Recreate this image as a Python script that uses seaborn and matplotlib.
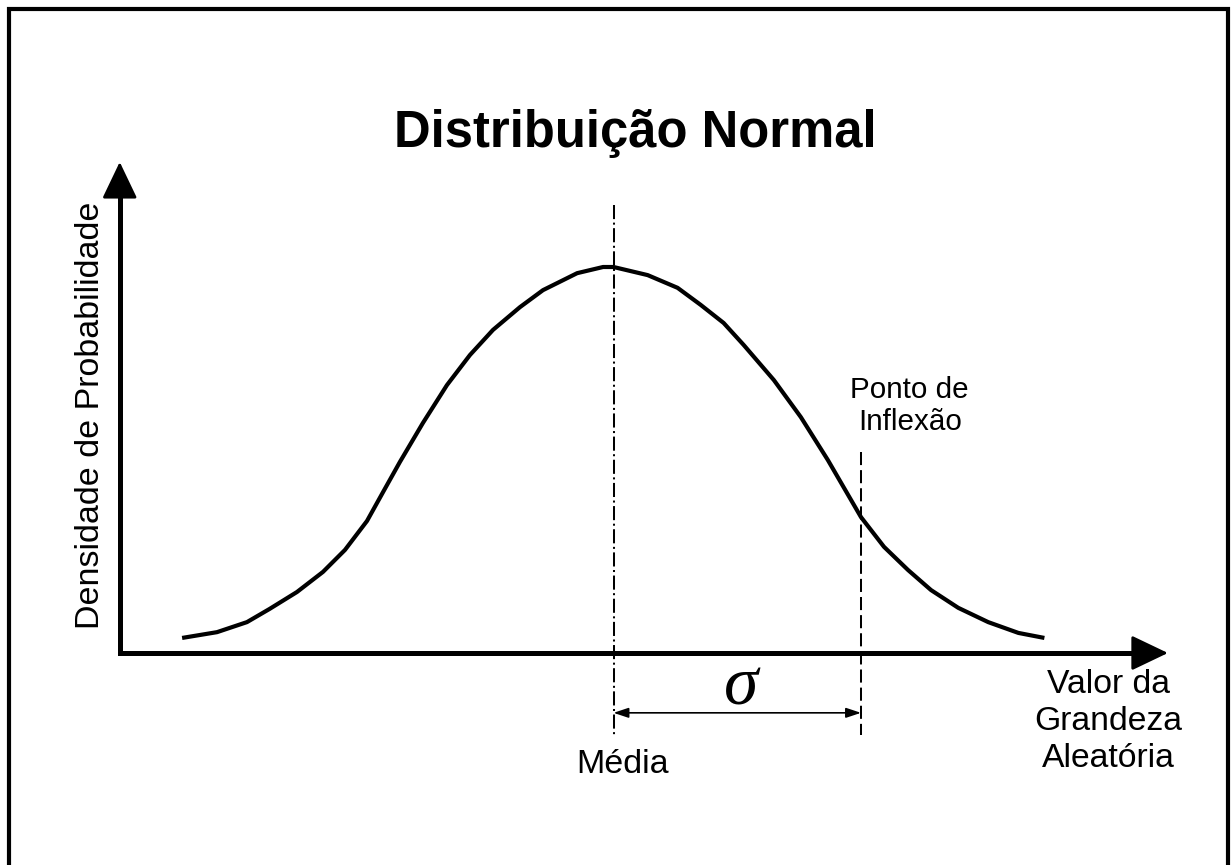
import numpy as np
import pandas as pd
import seaborn as sns
import matplotlib.pyplot as plt
from matplotlib.patches import Rectangle

# curve: x in sigma units from the mean, y relative to peak
curve_x = [-1.743, -1.602, -1.481, -1.390, -1.279, -1.174, -1.085, -0.996,
           -0.931, -0.863, -0.770, -0.673, -0.580, -0.487, -0.378, -0.285,
           -0.147, -0.042, 0.000, 0.138, 0.259, 0.352, 0.445, 0.526, 0.648,
           0.757, 0.866, 1.000, 1.093, 1.190, 1.283, 1.393, 1.514, 1.636, 1.741]
curve_y = [0.039, 0.054, 0.080, 0.114, 0.158, 0.210, 0.267, 0.342,
           0.417, 0.495, 0.596, 0.694, 0.772, 0.837, 0.896, 0.940,
           0.984, 1.000, 1.000, 0.979, 0.946, 0.902, 0.855, 0.798, 0.707,
           0.611, 0.500, 0.352, 0.275, 0.215, 0.163, 0.117, 0.080, 0.052, 0.039]

MEAN = 0.0
INFLEXION = 1.0

title = "Distribuição Normal"
ylabel = "Densidade de Probabilidade"
xlabel = "Valor da\nGrandeza\nAleatória"
mean_label = "Média"
inflexion_label = "Ponto de\nInflexão"
sigma_label = "σ"

sns.set_theme(style="white")
plt.rcParams['font.family'] = ['Liberation Sans', 'DejaVu Sans']
plt.rcParams['text.color'] = 'black'

fig = plt.figure(figsize=(12.31, 8.65), dpi=100)
ax = fig.add_axes([0, 0, 1, 1])

data = pd.DataFrame({"x": curve_x, "y": curve_y})
sns.lineplot(data=data, x="x", y="y", ax=ax, color="black", linewidth=3.0,
             solid_capstyle="butt", solid_joinstyle="round")

# axes: an L-shaped line plus two arrow heads
x0, y_tip, x_tip = -1.995, 1.272, 2.240
ax.plot([x0, x0, x_tip - 0.1], [y_tip - 0.06, 0, 0], color="black", lw=3.6,
        solid_joinstyle="miter", solid_capstyle="butt")
head = dict(arrowstyle="-|>,head_length=2.3,head_width=1.1", lw=2.0,
            color="black", shrinkA=0, shrinkB=0, mutation_scale=10)
ax.annotate("", xy=(x0, y_tip), xytext=(x0, y_tip - 0.12), arrowprops=head)
ax.annotate("", xy=(x_tip, 0), xytext=(x_tip - 0.2, 0), arrowprops=head)

# mean and inflection lines
ax.plot([MEAN, MEAN], [1.16, -0.212], color="black", lw=1.45,
        linestyle=(0, (7, 1.75, 1, 1.75)))
ax.plot([INFLEXION, INFLEXION], [0.52, -0.212], color="black", lw=1.45,
        linestyle=(0, (6.5, 2.5)))

# sigma bracket
ax.annotate("", xy=(INFLEXION, -0.155), xytext=(MEAN, -0.155),
            arrowprops=dict(arrowstyle="<|-|>,head_length=0.9,head_width=0.3",
                            lw=1.2, color="black", shrinkA=0, shrinkB=0,
                            mutation_scale=10))
ax.text(0.515, -0.09, sigma_label, fontsize=50, style="italic",
        family=["Liberation Serif", "DejaVu Serif"], ha="center", va="center")

ax.text(0.036, -0.290, mean_label, fontsize=24.5, ha="center", va="center")
ax.text(1.197, 0.640, inflexion_label, fontsize=21.3, ha="center", va="center",
        linespacing=1.2)
ax.text(2.0, -0.178, xlabel, fontsize=24.3, ha="center", va="center",
        linespacing=1.25)
ax.text(-2.115, 0.617, ylabel, fontsize=24.5, rotation=90,
        ha="center", va="center")
ax.text(0.09, 1.345, title, fontsize=36.5, fontweight="bold",
        ha="center", va="center")

ax.set_xlim(-613.5 / 247.5, (1231 - 613.5) / 247.5)
ax.set_ylim((653 - 865) / 386, 653 / 386)
ax.axis("off")

# outer frame (open at the bottom in the original)
fig.patches.append(Rectangle((9 / 1231, -0.1), (1228 - 9) / 1231, 1.1 - 9 / 865,
                             transform=fig.transFigure, fill=False,
                             edgecolor="black", linewidth=3.0))

fig.savefig("out.png", dpi=100, facecolor="white")
